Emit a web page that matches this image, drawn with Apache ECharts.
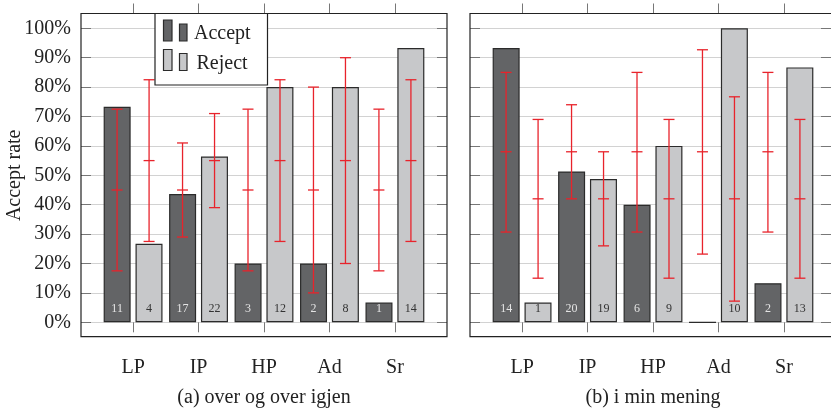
<!DOCTYPE html>
<html>
<head>
<meta charset="utf-8">
<script src="https://cdn.jsdelivr.net/npm/echarts@6/dist/echarts.min.js"></script>
<style>
  html, body { margin: 0; padding: 0; background: #fff; }
  #plot { width: 831px; height: 410px; }
</style>
</head>
<body>
<div id="plot"></div>
<script>
// kategorier
var cats = ['LP', 'IP', 'HP', 'Ad', 'Sr'];

// (a) over og over igjen
var acceptRateA = [73.3, 43.6, 20, 20, 6.7];
var rejectRateA = [26.7, 56.4, 80, 80, 93.3];
var acceptCountA = [11, 17, 3, 2, 1];
var rejectCountA = [4, 22, 12, 8, 14];
// [nedre, midt, øvre]
var acceptErrA = [[17.5, 45, 72.5], [29, 45, 61], [17.5, 45, 72.5], [10, 45, 80], [17.5, 45, 72.5]];
var rejectErrA = [[27.5, 55, 82.5], [39, 55, 71], [27.5, 55, 82.5], [20, 55, 90], [27.5, 55, 82.5]];

// (b) i min mening
var acceptRateB = [93.3, 51.3, 40, 0, 13.3];
var rejectRateB = [6.7, 48.7, 60, 100, 86.7];
var acceptCountB = [14, 20, 6, 0, 2];
var rejectCountB = [1, 19, 9, 10, 13];
var acceptErrB = [[30.7, 58, 85], [42, 58, 74], [30.7, 58, 85], [23.2, 58, 92.7], [30.7, 58, 85]];
var rejectErrB = [[15, 42, 69], [26, 42, 58], [15, 42, 69], [7.2, 42, 76.7], [15, 42, 69]];

var yTicks = [0, 10, 20, 30, 40, 50, 60, 70, 80, 90, 100];

var FONT = '"Liberation Serif", "DejaVu Serif", serif';
var DARK = '#636466';
var LIGHT = '#c7c8ca';
var EDGE = '#2b2b2b';
var RED = '#e8232b';

var myChart = echarts.init(document.getElementById('plot'));

// panel-geometri
var panelLeft = [81, 470];
var frameW = 366;
var plotTop = 28.3;
var plotH = 294;
var frameTop = 13.5;
var frameBottom = 336.7;
var innerPad = 19.35;

var grids = [];
panelLeft.forEach(function (l) {
  grids.push({ left: l, top: plotTop, width: frameW, height: plotH });
  grids.push({ left: l + innerPad, top: plotTop, width: frameW - 2 * innerPad, height: plotH });
});

var xAxes = [];
var yAxes = [];
panelLeft.forEach(function (l, p) {
  var outer = p * 2, inner = p * 2 + 1;
  xAxes.push({ type: 'value', gridIndex: outer, show: false });
  xAxes.push({
    type: 'category', gridIndex: inner, data: cats, position: 'bottom',
    offset: frameBottom - (plotTop + plotH),
    axisLine: { show: false },
    axisTick: { show: true, alignWithLabel: true, length: 10, lineStyle: { color: '#777' } },
    axisLabel: { fontFamily: FONT, fontSize: 20, color: '#222', margin: 21 }
  });
  xAxes.push({
    type: 'category', gridIndex: inner, data: cats, position: 'top',
    offset: plotTop - frameTop,
    axisLine: { show: false },
    axisTick: { show: true, alignWithLabel: true, length: 10, lineStyle: { color: '#777' } },
    axisLabel: { show: false }
  });

  yAxes.push({
    type: 'value', gridIndex: outer, position: 'left', min: 0, max: 100, interval: 10,
    name: p === 0 ? 'Accept rate' : '',
    nameLocation: 'middle', nameGap: 56, nameMoveOverlap: false,
    nameTextStyle: { fontFamily: FONT, fontSize: 20, color: '#222' },
    axisLine: { show: false },
    axisTick: { show: true, inside: true, length: 10, lineStyle: { color: '#777' } },
    splitLine: { show: true, lineStyle: { color: '#d2d2d2', width: 1.2 } },
    axisLabel: {
      show: p === 0, fontFamily: FONT, fontSize: 20, color: '#222', margin: 10,
      formatter: function (v) { return yTicks.indexOf(v) >= 0 ? v + '%' : ''; }
    }
  });
  yAxes.push({
    type: 'value', gridIndex: outer, position: 'right', min: 0, max: 100, interval: 10,
    axisLine: { show: false },
    axisTick: { show: true, inside: true, length: 10, lineStyle: { color: '#777' } },
    splitLine: { show: false },
    axisLabel: { show: false }
  });
  yAxes.push({ type: 'value', gridIndex: inner, min: 0, max: 100, show: false });
});

function barSeries(name, p, rates, counts, fill, txt) {
  return {
    name: name, type: 'bar',
    xAxisIndex: p * 3 + 1, yAxisIndex: p * 3 + 2,
    data: rates,
    barWidth: 27, barGap: '18%',
    itemStyle: { color: fill, borderColor: EDGE, borderWidth: 1.2 },
    label: {
      show: true, position: 'insideBottom', distance: 7,
      fontFamily: FONT, fontSize: 12, color: txt,
      formatter: function (d) { return counts[d.dataIndex] ? String(counts[d.dataIndex]) : ''; }
    },
    z: 2
  };
}

function errSeries(p, errs, off) {
  return {
    type: 'custom',
    xAxisIndex: p * 3 + 1, yAxisIndex: p * 3 + 2,
    data: errs.map(function (e, i) { return [i, e[0], e[1], e[2]]; }),
    encode: { x: 0, y: [1, 2, 3] },
    z: 5,
    renderItem: function (params, api) {
      var i = api.value(0);
      var lo = api.coord([i, api.value(1)]);
      var mid = api.coord([i, api.value(2)]);
      var hi = api.coord([i, api.value(3)]);
      var x = lo[0] + off;
      var w = 5.5;
      var st = { stroke: RED, lineWidth: 1.3 };
      function hl(y) { return { type: 'line', shape: { x1: x - w, y1: y, x2: x + w, y2: y }, style: st }; }
      return {
        type: 'group',
        children: [
          { type: 'line', shape: { x1: x, y1: lo[1], x2: x, y2: hi[1] }, style: st },
          hl(lo[1]), hl(mid[1]), hl(hi[1])
        ]
      };
    }
  };
}

var series = [
  barSeries('Accept', 0, acceptRateA, acceptCountA, DARK, '#e4e4e4'),
  barSeries('Reject', 0, rejectRateA, rejectCountA, LIGHT, '#333'),
  errSeries(0, acceptErrA, -16),
  errSeries(0, rejectErrA, 16),
  barSeries('Accept', 1, acceptRateB, acceptCountB, DARK, '#e4e4e4'),
  barSeries('Reject', 1, rejectRateB, rejectCountB, LIGHT, '#333'),
  errSeries(1, acceptErrB, -16),
  errSeries(1, rejectErrB, 16)
];

// ramme, legende og undertekster
var graphics = [];
panelLeft.forEach(function (l) {
  graphics.push({
    type: 'rect', z: 10, silent: true,
    shape: { x: l, y: frameTop, width: frameW, height: frameBottom - frameTop },
    style: { fill: 'none', stroke: '#222', lineWidth: 1.2 }
  });
});
graphics.push({
  type: 'rect', z: 20,
  shape: { x: 155, y: 13.5, width: 112.5, height: 71.5 },
  style: { fill: '#fff', stroke: '#222', lineWidth: 1.2 }
});
[[DARK, 20, 'Accept', 194], [LIGHT, 49.5, 'Reject', 196.5]].forEach(function (r) {
  graphics.push({ type: 'rect', z: 21, shape: { x: 163.5, y: r[1], width: 8.5, height: 21 }, style: { fill: r[0], stroke: EDGE, lineWidth: 1.2 } });
  graphics.push({ type: 'rect', z: 21, shape: { x: 179.5, y: r[1] + 4, width: 7.5, height: 17 }, style: { fill: r[0], stroke: EDGE, lineWidth: 1.2 } });
  graphics.push({ type: 'text', z: 21, x: r[3], y: r[1] + 14, style: { text: r[2], font: '20px ' + FONT, fill: '#222', verticalAlign: 'middle' } });
});
graphics.push({ type: 'text', x: 264, y: 398, style: { text: '(a) over og over igjen', font: '20px ' + FONT, fill: '#222', align: 'center', verticalAlign: 'middle' } });
graphics.push({ type: 'text', x: 653, y: 398, style: { text: '(b) i min mening', font: '20px ' + FONT, fill: '#222', align: 'center', verticalAlign: 'middle' } });

var option = {
  animation: false,
  backgroundColor: '#fff',
  grid: grids,
  xAxis: xAxes,
  yAxis: yAxes,
  series: series,
  graphic: graphics
};

myChart.setOption(option);
</script>
</body>
</html>
